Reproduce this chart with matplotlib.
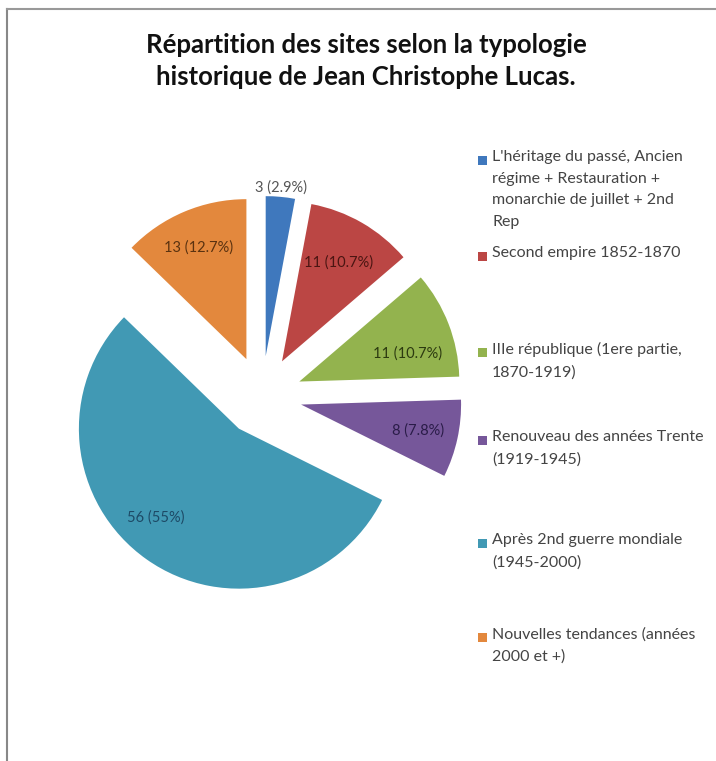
import numpy as np
import matplotlib
matplotlib.use("Agg")
import matplotlib.pyplot as plt
from matplotlib.patches import Rectangle
from matplotlib.lines import Line2D

plt.rcParams['font.family'] = ['Lato', 'DejaVu Sans']

W, H = 716, 761

title = "Répartition des sites selon la typologie\nhistorique de Jean Christophe Lucas."
categories = [
    "L'héritage du passé, Ancien\nrégime + Restauration +\nmonarchie de juillet + 2nd\nRep",
    "Second empire 1852-1870",
    "IIIe république (1ere partie,\n1870-1919)",
    "Renouveau des années Trente\n(1919-1945)",
    "Après 2nd guerre mondiale\n(1945-2000)",
    "Nouvelles tendances (années\n2000 et +)",
]
values = [3, 11, 11, 8, 56, 13]
pct_labels = ["2.9%", "10.7%", "10.7%", "7.8%", "55%", "12.7%"]
colors = ["#3f78bd", "#bb4644", "#93b34e", "#76579a", "#4199b4", "#e3883d"]
label_colors = ["#555555", "#4a1512", "#2c3a10", "#2a1c48", "#1d4a66", "#5a3210"]

fig = plt.figure(figsize=(W / 100, H / 100), dpi=100)

# pie axes: center at (262, 396) px, radius 160 px
R = 160
cx, cy = 262, 396
half = 1.3
ax = fig.add_axes([(cx - half * R) / W, (H - cy - half * R) / H,
                   2 * half * R / W, 2 * half * R / H])
explode = [0.25] * len(values)
wedges, _ = ax.pie(values, explode=explode, colors=colors, startangle=90,
                   counterclock=False, radius=1.0,
                   wedgeprops=dict(linewidth=0))
ax.set_xlim(-half, half)
ax.set_ylim(-half, half)
ax.set_aspect('equal')
ax.axis('off')

# data labels (value + percent)
label_dist = [1.31, 0.96, 0.95, 1.0, 1.01, 1.01]
angle_shift = [0, 0, 5, 0, 6, 0]
for i, w in enumerate(wedges):
    mid = np.deg2rad((w.theta1 + w.theta2) / 2 - angle_shift[i])
    d = label_dist[i]
    ax.text(d * np.cos(mid), d * np.sin(mid), f"{values[i]} ({pct_labels[i]})",
            ha='center', va='center', fontsize=10.5, color=label_colors[i])

# title
fig.text(366 / W, 1 - 61 / H, title, ha='center', va='center',
         fontsize=18.5, fontweight='bold', color='#111111', linespacing=1.38)

# legend (manual, entries spaced like the original)
entry_y = [160, 256, 352, 440, 543, 637]
for lab, col, y in zip(categories, colors, entry_y):
    fig.patches.append(Rectangle((478 / W, 1 - (y + 5) / H), 9 / W, 9 / H,
                                 transform=fig.transFigure, facecolor=col,
                                 edgecolor='none'))
    fig.text(492 / W, 1 - (y - 10) / H, lab, ha='left', va='top',
             fontsize=11.5, color='#444444', linespacing=1.7)

# frame lines (left and top)
fig.add_artist(Line2D([7 / W, 7 / W], [0, 1 - 9 / H], transform=fig.transFigure,
                      color='#888888', linewidth=1.5))
fig.add_artist(Line2D([7 / W, 1], [1 - 9 / H, 1 - 9 / H], transform=fig.transFigure,
                      color='#999999', linewidth=1.5))

fig.savefig("out.png", dpi=100)
